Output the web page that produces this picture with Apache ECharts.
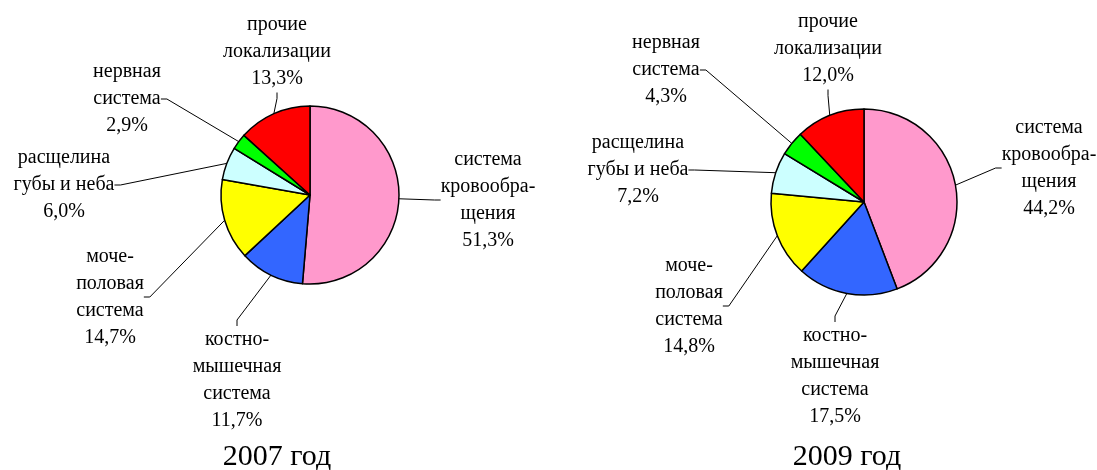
<!DOCTYPE html>
<html>
<head>
<meta charset="utf-8">
<script src="https://cdn.jsdelivr.net/npm/echarts@6/dist/echarts.min.js"></script>
<style>
    html, body { margin: 0; padding: 0; background: #fff; }
    #pie { width: 1097px; height: 470px; }
</style>
</head>
<body>
<div id="pie"></div>
<script>
// категории (по часовой стрелке от 12 часов)
var categories = ['система\nкровообра-\nщения', 'костно-\nмышечная\nсистема', 'моче-\nполовая\nсистема', 'расщелина\nгубы и неба', 'нервная\nсистема', 'прочие\nлокализации'];
var values2007 = [51.3, 11.7, 14.7, 6.0, 2.9, 13.3];
var values2009 = [44.2, 17.5, 14.8, 7.2, 4.3, 12.0];
var years = ['2007 год', '2009 год'];
var colors = ['#FF99CC', '#3366FF', '#FFFF00', '#CCFFFF', '#00FF00', '#FF0000'];

// центры подписей
var labelPos1 = [[488, 200], [237, 380], [110, 297], [64, 185], [127, 99], [277, 52]];
var labelPos2 = [[1049, 168], [835, 376], [689, 306], [638, 170], [666, 70], [828, 49]];

function makeData(vals) {
    var arr = [];
    for (var i = 0; i < categories.length; i++) {
        arr.push({ name: categories[i], value: vals[i], itemStyle: { color: colors[i] } });
    }
    return arr;
}

function pieSeries(vals, center, r, pos) {
    return {
        type: 'pie',
        center: center,
        radius: r,
        startAngle: 90,
        clockwise: true,
        avoidLabelOverlap: false,
        silent: true,
        itemStyle: { borderColor: '#000', borderWidth: 1.5 },
        label: {
            show: true,
            position: 'outside',
            fontFamily: 'Liberation Serif',
            fontSize: 20,
            lineHeight: 27,
            color: '#000',
            align: 'center',
            formatter: function (p) {
                return p.name + '\n' + p.value.toFixed(1).replace('.', ',') + '%';
            }
        },
        labelLine: {
            show: true,
            length: 10,
            length2: 6,
            lineStyle: { color: '#000', width: 1 }
        },
        labelLayout: function (p) {
            return { x: pos[p.dataIndex][0], y: pos[p.dataIndex][1], align: 'center', verticalAlign: 'middle' };
        },
        emphasis: { disabled: true },
        data: makeData(vals)
    };
}

var myChart = echarts.init(document.getElementById('pie'));
var option = {
    animation: false,
    backgroundColor: '#fff',
    title: [
        { text: years[0], left: 272, top: 437, textAlign: 'center',
          textStyle: { fontFamily: 'Liberation Serif', fontSize: 30, fontWeight: 'normal', color: '#000' } },
        { text: years[1], left: 842, top: 437, textAlign: 'center',
          textStyle: { fontFamily: 'Liberation Serif', fontSize: 30, fontWeight: 'normal', color: '#000' } }
    ],
    series: [
        pieSeries(values2007, [310, 195], 89, labelPos1),
        pieSeries(values2009, [864, 202], 93, labelPos2)
    ]
};
myChart.setOption(option);
</script>
</body>
</html>
